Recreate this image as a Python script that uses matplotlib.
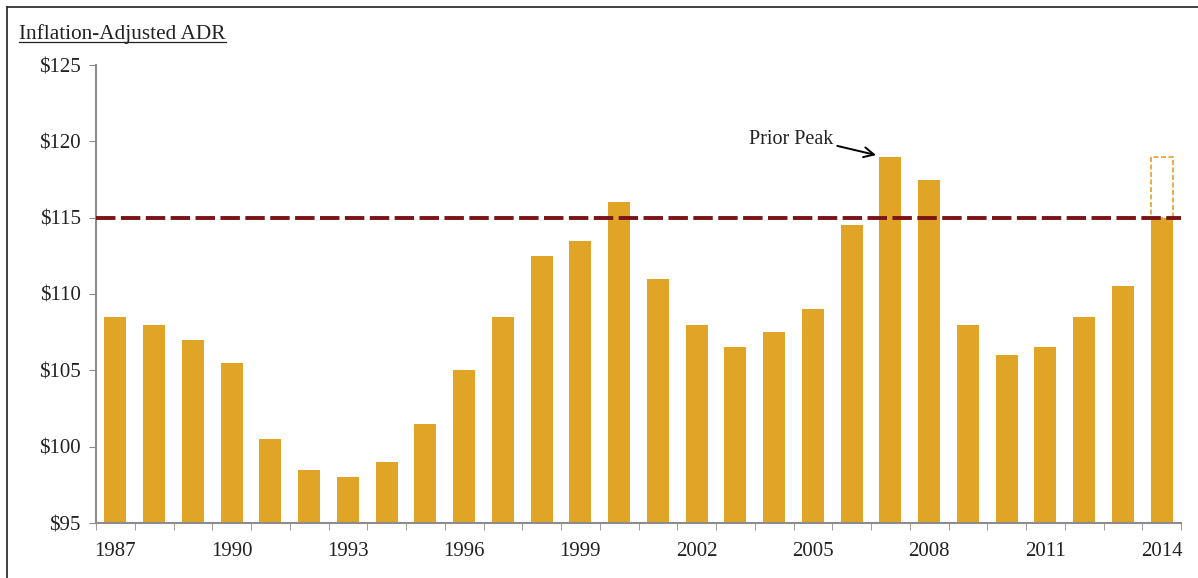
import numpy as np
import matplotlib.pyplot as plt
from matplotlib.lines import Line2D
from matplotlib.patches import Rectangle

# Dados (ADR ajustado pela inflação)
years = list(range(1987, 2015))
adr = [108.5, 108, 107, 105.5, 100.5, 98.5, 98, 99, 101.5, 105,
       108.5, 112.5, 113.5, 116, 111, 108, 106.5, 107.5, 109, 114.5,
       119, 117.5, 108, 106, 106.5, 108.5, 110.5, 115]
prior_peak = 119
reference_level = 115
y_ticks = [95, 100, 105, 110, 115, 120, 125]
label_years = [1987, 1990, 1993, 1996, 1999, 2002, 2005, 2008, 2011, 2014]

plt.rcParams['font.family'] = ['Liberation Serif', 'DejaVu Serif']

bar_color = '#E0A526'
line_color = '#7A1416'
spine_color = '#8C8C8C'
text_color = '#222222'

fig = plt.figure(figsize=(11.98, 5.78), dpi=100)
ax = fig.add_axes([96 / 1198, 1 - 523 / 578, (1181 - 96) / 1198, (523 - 65) / 578])

x = np.arange(len(years))
ax.bar(x, np.array(adr) - 95, bottom=95, width=0.57, color=bar_color, zorder=2)

# Linha de referência
ax.axhline(reference_level, color=line_color, lw=2.8, ls=(0, (5, 1.4)), zorder=3)

# Caixa tracejada do último ano até o pico anterior
last = len(years) - 1
ax.add_patch(Rectangle((last - 0.285, adr[-1]), 0.57, prior_peak - adr[-1],
                       fill=False, edgecolor='#E8A020', lw=1.2, ls=(0, (3, 1.5)), zorder=2))

# Anotação
i07 = years.index(2007)
ax.text(i07 - 1.48, 120.1, 'Prior Peak', fontsize=14.5, ha='right', va='center',
        color=text_color)
ax.annotate('', xy=(i07 - 0.37, 119.1), xytext=(i07 - 1.37, 119.7),
            arrowprops=dict(arrowstyle='->', color='black', lw=1.4,
                            shrinkA=0, shrinkB=0, mutation_scale=18))

ax.set_xlim(-0.5, len(years) - 0.5)
ax.set_ylim(95, 125)
ax.set_yticks(y_ticks)
ax.set_yticklabels([f'${v}' for v in y_ticks])
ax.set_xticks([years.index(y) for y in label_years])
ax.set_xticklabels([str(y) for y in label_years])
ax.set_xticks(np.arange(-0.5, len(years)), minor=True)

ax.tick_params(axis='y', direction='out', length=5, color=spine_color,
               labelsize=15, pad=6, labelcolor=text_color)
ax.tick_params(axis='x', which='major', length=0, labelsize=15, pad=14,
               labelcolor=text_color)
ax.tick_params(axis='x', which='minor', direction='out', length=5, color=spine_color)

for side in ['top', 'right']:
    ax.spines[side].set_visible(False)
for side in ['left', 'bottom']:
    ax.spines[side].set_color(spine_color)
    ax.spines[side].set_linewidth(1.5)

# Título sublinhado
title = fig.text(19 / 1198, 1 - 34.5 / 578, 'Inflation-Adjusted ADR', fontsize=15.3,
                 ha='left', va='center', color=text_color)
fig.canvas.draw()
bb = title.get_window_extent().transformed(fig.transFigure.inverted())
fig.add_artist(Line2D([bb.x0, bb.x1], [bb.y0 + 0.004, bb.y0 + 0.004],
                      transform=fig.transFigure, color=text_color, lw=0.9))

# Moldura
fig.add_artist(Line2D([7 / 1198, 1], [1 - 7 / 578, 1 - 7 / 578],
                      transform=fig.transFigure, color='#333333', lw=1.3))
fig.add_artist(Line2D([7 / 1198, 7 / 1198], [0, 1 - 7 / 578],
                      transform=fig.transFigure, color='#333333', lw=1.3))

fig.savefig('out.png', dpi=100)
